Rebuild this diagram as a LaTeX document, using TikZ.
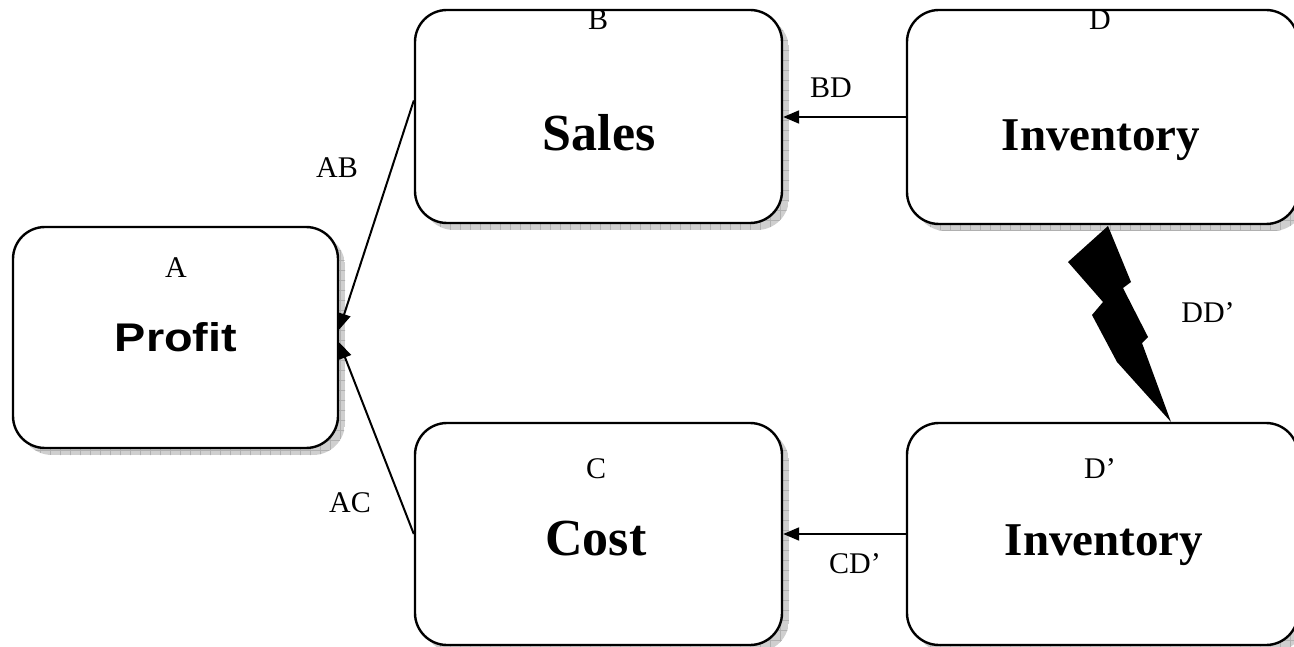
\documentclass[tikz,border=0pt]{standalone}
\usepackage{fontspec}
\setmainfont{Liberation Serif}
\newfontfamily\headsans{Liberation Sans}
\usetikzlibrary{arrows.meta,calc}

\tikzset{
  block/.style={draw=black, line width=2.4pt, fill=white, rounded corners=32pt,
    inner sep=0pt, minimum width=#1},
  letter/.style={font=\fontsize{30}{30}\selectfont, anchor=base, inner sep=0pt},
  titleserif/.style={font=\fontsize{52}{52}\selectfont\bfseries, anchor=base, inner sep=0pt},
  titleinv/.style={font=\fontsize{47}{47}\selectfont\bfseries, anchor=base, inner sep=0pt},
  titlesans/.style={font=\fontsize{40}{40}\selectfont\headsans\bfseries, anchor=base, inner sep=0pt},
  link/.style={line width=2pt, -{Triangle[length=16pt,width=13pt]}},
}

% hatched drop shadow offset behind a box
\newcommand\dropshadow[4]{%
  \begin{scope}
    \clip[rounded corners=32pt] (#1+7,#2+7) rectangle (#3+7,#4+7);
    \fill[gray!38] (#1,#2) rectangle (#3+7,#4+7);
    \draw[gray!62, line width=0.6pt, step=10pt] (#1,#2) grid (#3+10,#4+10);
  \end{scope}}

\begin{document}
\begin{tikzpicture}[x=1pt, y=-1pt]
\clip (0,0) rectangle (1294,647);
\fill[white] (0,0) rectangle (1294,647);

% drop shadows behind the boxes
\dropshadow{13}{227}{338}{448}
\dropshadow{415}{10}{782}{223}
\dropshadow{907}{10}{1298}{224}
\dropshadow{415}{423}{782}{645}
\dropshadow{907}{423}{1298}{645}

% boxes
\node[block=325pt, minimum height=221pt] (A)  at (175.5,337.5) {};
\node[block=367pt, minimum height=213pt] (B)  at (598.5,116.5) {};
\node[block=391pt, minimum height=214pt] (D)  at (1102.5,117)  {};
\node[block=367pt, minimum height=222pt] (C)  at (598.5,534)   {};
\node[block=391pt, minimum height=222pt] (D2) at (1102.5,534)  {};

% box texts
\node[letter] (Alab) at (176,278) {A};
\node[titlesans] (Atitle) at (176,352) {\scalebox{1.17}[1]{Profit}};
\node[letter] (Blab) at (598,30) {B};
\node[titleserif] (Btitle) at (599,151) {Sales};
\node[letter] (Dlab) at (1100,30) {D};
\node[titleinv] (Dtitle) at (1101,151) {Inventory};
\node[letter] (Clab) at (596,478) {C};
\node[titleserif] (Ctitle) at (596,555) {Cost};
\node[letter] (D2lab) at (1100,478) {D’};
\node[titleinv] (D2title) at (1104,555) {Inventory};

% connectors
\draw[link] ([yshift=16pt]B.west) -- ([yshift=8pt]A.east);
\draw[link] (C.west) -- ([yshift=-5pt]A.east);
\draw[link] (D.west) -- (D.west -| B.east);
\draw[link] (D2.west) -- (C.east);

% lightning bolt from D to D'
\fill[black] (1108,226) -- (1068,262) -- (1103,302) -- (1092,315) -- (1117,362)
  -- (1171,422) -- (1142,343) -- (1148,337) -- (1123,288) -- (1131,282) -- cycle;

% connector labels
\node[letter] (ABlab) at (337,178) {AB};
\node[letter] (AClab) at (350,512) {AC};
\node[letter] (BDlab) at (831,98) {BD};
\node[letter] (DDlab) at (1208,323) {DD’};
\node[letter] (CDlab) at (855,573) {CD’};
\end{tikzpicture}
\end{document}
